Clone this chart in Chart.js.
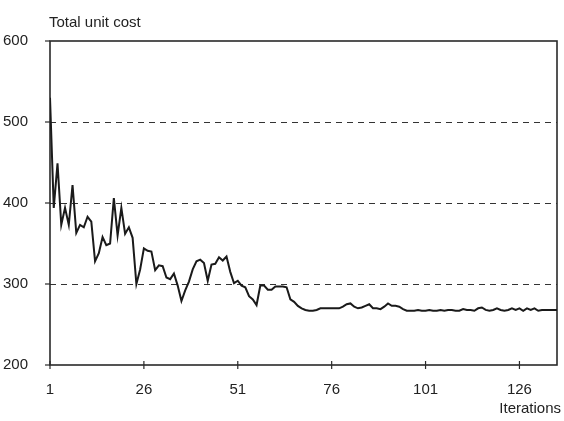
<!DOCTYPE html>
<html>
<head>
<meta charset="utf-8">
<script src="https://cdn.jsdelivr.net/npm/chart.js@4/dist/chart.umd.min.js"></script>
<style>
  html, body { margin: 0; padding: 0; background: #fff; }
  #wrap { width: 564px; height: 421px; position: relative; }
</style>
</head>
<body>
<div id="wrap"><canvas id="costChart"></canvas></div>
<script>
// Total unit cost per iteration
const unitCost = [
  530, 394, 449, 373, 394, 373, 422, 363, 373, 370,
  383, 377, 328, 338, 358, 348, 350, 406, 360, 394,
  362, 370, 357, 300, 318, 344, 341, 340, 317, 323,
  322, 308, 306, 313, 298, 279, 292, 303, 318, 328,
  330, 326, 304, 324, 325, 333, 329, 334, 315, 301,
  304, 298, 296, 285, 281, 274, 298, 298, 293, 293,
  297, 297, 297, 296, 281, 278, 273, 270, 268, 267,
  267, 268, 270, 270, 270, 270, 270, 270, 272, 275,
  276, 272, 270, 271, 273, 275, 270, 270, 269, 272,
  276, 273, 273, 272, 269, 267, 267, 267, 268, 267,
  267, 268, 267, 267, 268, 267, 268, 268, 267, 267,
  269, 268, 268, 267, 270, 271, 268, 267, 268, 270,
  268, 267, 268, 270, 268, 270, 267, 270, 268, 270,
  267, 268, 268, 268, 268, 268
];
const xTicks = [1, 26, 51, 76, 101, 126];
const yTicks = [200, 300, 400, 500, 600];
const dashedLevels = [300, 400, 500];

const FONT = '"Liberation Sans", Arial, Helvetica, sans-serif';
const INK = '#222';

// frame, dashed levels, tick marks and the two axis captions
const framePlugin = {
  id: 'frame',
  beforeDatasetsDraw(chart) {
    const { ctx, chartArea: a, scales: { x, y } } = chart;
    ctx.save();
    ctx.strokeStyle = '#333';
    ctx.lineWidth = 1;
    ctx.setLineDash([6, 5]);
    dashedLevels.forEach(v => {
      const py = Math.round(y.getPixelForValue(v)) + 0.5;
      ctx.beginPath();
      ctx.moveTo(a.left, py);
      ctx.lineTo(a.right, py);
      ctx.stroke();
    });
    ctx.setLineDash([]);
    ctx.lineWidth = 1.6;
    ctx.strokeStyle = '#2a2a2a';
    ctx.strokeRect(a.left, a.top, a.right - a.left, a.bottom - a.top);
    ctx.lineWidth = 1.2;
    xTicks.forEach(v => {
      const px = x.getPixelForValue(v);
      ctx.beginPath();
      ctx.moveTo(px, a.bottom - 4);
      ctx.lineTo(px, a.bottom + 4);
      ctx.stroke();
    });
    yTicks.forEach(v => {
      const py = y.getPixelForValue(v);
      ctx.beginPath();
      ctx.moveTo(a.left - 5, py);
      ctx.lineTo(a.left, py);
      ctx.stroke();
    });
    ctx.restore();
  },
  afterDraw(chart) {
    const { ctx } = chart;
    ctx.save();
    ctx.fillStyle = INK;
    ctx.font = '15px ' + FONT;
    ctx.textBaseline = 'alphabetic';
    ctx.textAlign = 'left';
    ctx.fillText('Total unit cost', 49, 27);
    ctx.textAlign = 'right';
    ctx.fillText('Iterations', 561, 413);
    ctx.restore();
  }
};

new Chart(document.getElementById('costChart'), {
  type: 'line',
  data: {
    datasets: [{
      data: unitCost.map((v, i) => ({ x: i + 1, y: v })),
      borderColor: '#1a1a1a',
      borderWidth: 2,
      pointRadius: 0,
      tension: 0,
      fill: false
    }]
  },
  options: {
    responsive: true,
    maintainAspectRatio: false,
    animation: false,
    layout: { padding: { top: 41, right: 7, bottom: 0, left: 0 } },
    plugins: { legend: { display: false }, tooltip: { enabled: false } },
    scales: {
      x: {
        type: 'linear',
        min: 1,
        max: 136,
        afterBuildTicks: axis => { axis.ticks = xTicks.map(v => ({ value: v })); },
        afterFit: axis => { axis.height = 56; },
        grid: { display: false },
        border: { display: false },
        ticks: {
          autoSkip: false,
          maxRotation: 0,
          padding: 8,
          color: INK,
          font: { family: FONT, size: 15 }
        }
      },
      y: {
        min: 200,
        max: 600,
        afterBuildTicks: axis => { axis.ticks = yTicks.map(v => ({ value: v })); },
        afterFit: axis => { axis.width = 50; },
        grid: { display: false },
        border: { display: false },
        ticks: {
          padding: 14,
          color: INK,
          font: { family: FONT, size: 15 }
        }
      }
    }
  },
  plugins: [framePlugin]
});
</script>
</body>
</html>
